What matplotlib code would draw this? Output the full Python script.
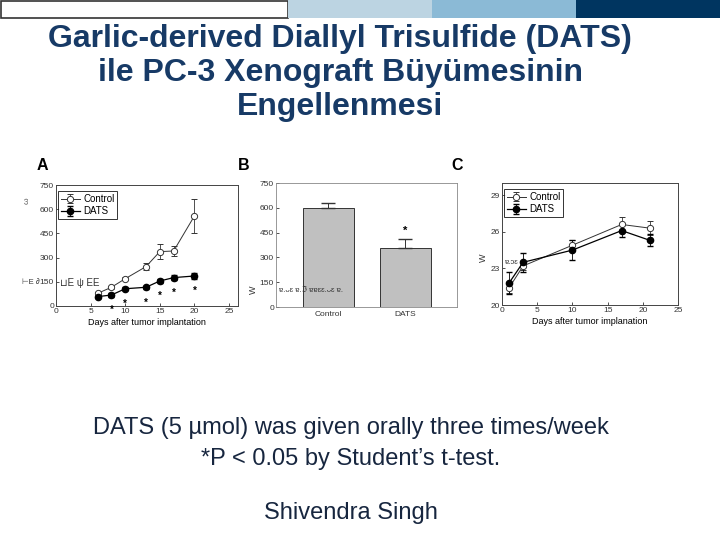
import matplotlib.pyplot as plt
from matplotlib.patches import Rectangle

# Panel A: tumor volume
days_a = [6, 8, 10, 13, 15, 17, 20]
control_a = [78, 116, 169, 244, 337, 341, 558]
control_a_err = [8, 10, 10, 22, 48, 28, 108]
dats_a = [58, 68, 107, 116, 155, 176, 186]
dats_a_err = [6, 12, 10, 8, 14, 16, 18]
star_days_a = [8, 10, 13, 15, 17, 20]

# Panel B: tumor weight
groups_b = ["Control", "DATS"]
weight_b = [599, 357]
weight_b_err = [32, 56]

# Panel C: body weight
days_c = [1, 3, 10, 17, 21]
control_c = [21.4, 23.2, 24.9, 26.6, 26.3]
control_c_err = [0.4, 0.3, 0.4, 0.6, 0.6]
dats_c = [21.8, 23.5, 24.5, 26.1, 25.3]
dats_c_err = [0.9, 0.8, 0.8, 0.5, 0.5]

title_lines = ["Garlic-derived Diallyl Trisulfide (DATS)",
               "ile PC-3 Xenograft Büyümesinin",
               "Engellenmesi"]
note_lines = ["DATS (5 µmol) was given orally three times/week",
              "*P < 0.05 by Student’s t-test."]
author = "Shivendra Singh"

W, H = 720, 540
plt.rcParams['font.family'] = ['Liberation Sans', 'DejaVu Sans']
fig = plt.figure(figsize=(7.2, 5.4), dpi=100)


def px_axes(left, top, right, bottom):
    return fig.add_axes([left / W, 1 - bottom / H, (right - left) / W, (bottom - top) / H])


def px_text(x, y, s, **kw):
    # figure-level text, drawn above the panels
    fig.text(x / W, 1 - y / H, s, zorder=10, **kw)


# header bar
bar = fig.add_axes([0, 0, 1, 1], zorder=-1)
bar.set_xlim(0, W)
bar.set_ylim(H, 0)
bar.axis('off')
bar.add_patch(Rectangle((0.5, 0.5), 287.5, 17.5, facecolor='white', edgecolor='#333333', lw=1.2))
bar.add_patch(Rectangle((288, 0), 144, 18, facecolor='#BCD4E2', lw=0))
bar.add_patch(Rectangle((432, 0), 144, 18, facecolor='#8BBAD6', lw=0))
bar.add_patch(Rectangle((576, 0), 144, 18, facecolor='#003560', lw=0))

title_color = '#173A66'
for i, line in enumerate(title_lines):
    bar.text(340, 39 + 34 * i, line, ha='center', va='center', fontsize=23,
             fontweight='bold', color=title_color)

for lbl, x in zip(["A", "B", "C"], [42, 244, 457]):
    bar.text(x, 165, lbl, ha='center', va='center', fontsize=11.5, fontweight='bold', color='black')

text_color = '#17263F'
bar.text(351, 428, note_lines[0], ha='center', va='center', fontsize=17, color=text_color)
bar.text(351, 459, note_lines[1], ha='center', va='center', fontsize=17, color=text_color)
bar.text(351, 513, author, ha='center', va='center', fontsize=17, color=text_color)

tick_kw = dict(direction='in', length=2.5, width=0.6, labelsize=6, pad=1.5, colors='#333333')
leg_kw = dict(loc='upper left', bbox_to_anchor=(0.01, 0.95), fontsize=7, frameon=True,
              fancybox=False, edgecolor='black', handlelength=2.0, borderpad=0.3,
              labelspacing=0.25, handletextpad=0.3, borderaxespad=0.0)

# Panel A
ax = px_axes(56, 185, 238, 306)
ax.errorbar(days_a, control_a, yerr=control_a_err, color='#333333', lw=0.7,
            marker='o', ms=4.5, mfc='white', mec='#333333', mew=0.7, capsize=2, elinewidth=0.6,
            label='Control')
ax.errorbar(days_a, dats_a, yerr=dats_a_err, color='black', lw=0.9,
            marker='o', ms=4.5, mfc='black', mec='black', capsize=2, elinewidth=0.6,
            label='DATS')
for d in star_days_a:
    v = dats_a[days_a.index(d)]
    ax.annotate('*', (d, v), xytext=(0, -11), textcoords='offset points',
                ha='center', va='center', fontsize=7, fontweight='bold')
ax.set_xlim(0, 26.3)
ax.set_ylim(0, 750)
ax.set_xticks([0, 5, 10, 15, 20, 25])
ax.set_yticks([0, 150, 300, 450, 600, 750])
ax.tick_params(**tick_kw)
ax.set_xlabel('Days after tumor implantation', fontsize=6.5, labelpad=2)
for s in ax.spines.values():
    s.set_linewidth(0.7)
    s.set_color('#444444')
ax.legend(**leg_kw).get_frame().set_linewidth(0.7)
px_text(22, 283, '⊢E ∂', fontsize=5.5, va='center', color='#333333')
px_text(60, 283, '⊔E ψ EE', fontsize=7, va='center', color='#333333')
px_text(24, 201, 'ω', fontsize=6, rotation=90, va='center', color='#555555')

# Panel B
ax = px_axes(276, 183, 457, 307)
xb = range(len(groups_b))
ax.bar(xb, weight_b, width=0.67, color='#C0C0C0', edgecolor='#333333', lw=0.7)
ax.errorbar(xb, weight_b, yerr=[[0, 0], weight_b_err], fmt='none', ecolor='#333333',
            capsize=5, elinewidth=0.7)
ax.text(1, weight_b[1] + weight_b_err[1] + 45, '*', ha='center', va='center',
        fontsize=8, fontweight='bold')
ax.set_xlim(-0.68, 1.67)
ax.set_ylim(0, 750)
ax.set_xticks(list(xb))
ax.set_xticklabels(groups_b)
ax.set_yticks([0, 150, 300, 450, 600, 750])
ax.tick_params(**tick_kw)
ax.tick_params(axis='x', length=0, pad=3)
for s in ax.spines.values():
    s.set_linewidth(0.6)
    s.set_color('#888888')
px_text(249, 290, 'W', fontsize=6.5, rotation=90, va='center', color='#333333')
px_text(279, 290, 'ɐ.ᴗɛ ɐ.ℑ ɐɐɛɛ.ᴗɛ ɐ.', fontsize=5.5, va='center', color='#333333')

# Panel C
ax = px_axes(502, 183, 678, 305)
ax.errorbar(days_c, control_c, yerr=control_c_err, color='#333333', lw=0.7,
            marker='o', ms=4.5, mfc='white', mec='#333333', mew=0.7, capsize=2, elinewidth=0.6,
            label='Control')
ax.errorbar(days_c, dats_c, yerr=dats_c_err, color='black', lw=0.9,
            marker='o', ms=4.5, mfc='black', mec='black', capsize=2, elinewidth=0.6,
            label='DATS')
ax.set_xlim(0, 25)
ax.set_ylim(20, 30)
ax.set_xticks([0, 5, 10, 15, 20, 25])
ax.set_yticks([20, 23, 26, 29])
ax.tick_params(**tick_kw)
ax.set_xlabel('Days after tumor implanation', fontsize=6.5, labelpad=2)
for s in ax.spines.values():
    s.set_linewidth(0.7)
    s.set_color('#444444')
ax.legend(**leg_kw).get_frame().set_linewidth(0.7)
px_text(479, 258, 'W', fontsize=6.5, rotation=90, va='center', color='#333333')
px_text(505, 262, 'ɐ.ɔɛ', fontsize=5.5, va='center', color='#333333')

fig.savefig('out.png', dpi=100)
